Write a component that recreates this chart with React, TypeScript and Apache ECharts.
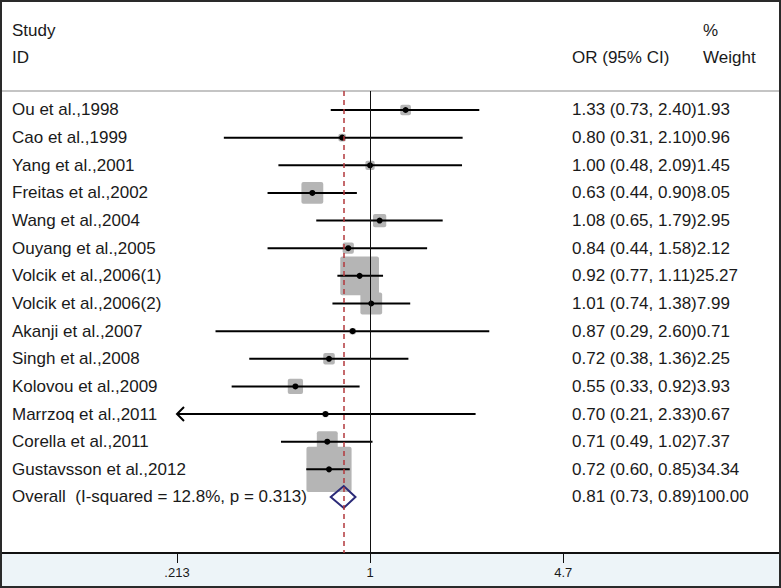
import React, { useEffect, useRef } from "react";
import * as echarts from "echarts";

const studies = [
  "Ou et al.,1998",
  "Cao et al.,1999",
  "Yang et al.,2001",
  "Freitas et al.,2002",
  "Wang et al.,2004",
  "Ouyang et al.,2005",
  "Volcik et al.,2006(1)",
  "Volcik et al.,2006(2)",
  "Akanji et al.,2007",
  "Singh et al.,2008",
  "Kolovou et al.,2009",
  "Marrzoq et al.,2011",
  "Corella et al.,2011",
  "Gustavsson et al.,2012",
];
const orValues = [1.33, 0.8, 1.0, 0.63, 1.08, 0.84, 0.92, 1.01, 0.87, 0.72, 0.55, 0.7, 0.71, 0.72];
const ciLower = [0.73, 0.31, 0.48, 0.44, 0.65, 0.44, 0.77, 0.74, 0.29, 0.38, 0.33, 0.21, 0.49, 0.6];
const ciUpper = [2.4, 2.1, 2.09, 0.9, 1.79, 1.58, 1.11, 1.38, 2.6, 1.36, 0.92, 2.33, 1.02, 0.85];
const weights = [1.93, 0.96, 1.45, 8.05, 2.95, 2.12, 25.27, 7.99, 0.71, 2.25, 3.93, 0.67, 7.37, 34.34];

const overallLabel = "Overall  (I-squared = 12.8%, p = 0.313)";
const overallOR = 0.81;
const overallLower = 0.73;
const overallUpper = 0.89;
const overallWeight = 100.0;

const tickValues = [0.213, 1, 4.7];
const tickLabels = [".213", "1", "4.7"];

const FONT = '"Liberation Sans", Arial, Helvetica, sans-serif';
const TEXT = "#1a1a1a";

export default function App() {
  const ref = useRef<HTMLDivElement>(null);

  useEffect(() => {
    document.body.style.margin = "0";
    if (!ref.current) return;
    const chart = echarts.init(ref.current, null, { renderer: "svg" });

    const ln = Math.log;
    const clipLow = ln(tickValues[0]);
    const leftLabels = [...studies, overallLabel];
    const rightLabels = [
      ...orValues.map(
        (o, i) =>
          `${o.toFixed(2)} (${ciLower[i].toFixed(2)}, ${ciUpper[i].toFixed(2)})${weights[i].toFixed(2)}`
      ),
      `${overallOR.toFixed(2)} (${overallLower.toFixed(2)}, ${overallUpper.toFixed(2)})${overallWeight.toFixed(2)}`,
    ];
    const rowIdx = leftLabels.map((_, i) => i);
    const studyData = orValues.map((o, i) => [ln(o), i, ln(ciLower[i]), ln(ciUpper[i]), weights[i]]);
    const overallRow = studies.length;

    const xMin = ln(0.052);
    const xMax = ln(26.7);

    const option: any = {
      animation: false,
      textStyle: { fontFamily: FONT },
      grid: { left: 1, right: 1, top: 91, bottom: 35 },
      xAxis: [
        {
          type: "value",
          position: "bottom",
          min: xMin,
          max: xMax,
          axisLine: { show: true, onZero: false, lineStyle: { color: "#111", width: 2 } },
          axisTick: {
            show: true,
            inside: false,
            customValues: tickValues.map((v) => ln(v)),
            length: 10,
            lineStyle: { color: "#111", width: 1 },
          },
          axisLabel: {
            show: true,
            customValues: tickValues.map((v) => ln(v)),
            formatter: (v: number) => {
              let best = 0;
              tickValues.forEach((t, i) => {
                if (Math.abs(ln(t) - v) < Math.abs(ln(tickValues[best]) - v)) best = i;
              });
              return tickLabels[best];
            },
            margin: 13,
            fontSize: 13,
            color: TEXT,
            fontFamily: FONT,
          },
          splitLine: { show: false },
        },
        {
          type: "value",
          position: "top",
          min: xMin,
          max: xMax,
          axisLine: { show: true, onZero: false, lineStyle: { color: "#c4c4c4", width: 2 } },
          axisTick: { show: false },
          axisLabel: { show: false },
          splitLine: { show: false },
        },
      ],
      yAxis: [
        {
          type: "value",
          inverse: true,
          min: -0.687,
          max: 16.026,
          position: "left",
          axisLine: { show: false, onZero: false },
          axisTick: { show: false },
          splitLine: { show: false },
          axisLabel: {
            show: true,
            inside: true,
            customValues: rowIdx,
            formatter: (v: number) => leftLabels[Math.round(v)] ?? "",
            margin: 11,
            align: "left",
            fontSize: 17,
            color: TEXT,
            fontFamily: FONT,
          },
        },
        {
          type: "value",
          inverse: true,
          min: -0.687,
          max: 16.026,
          position: "right",
          axisLine: { show: false, onZero: false },
          axisTick: { show: false },
          splitLine: { show: false },
          axisLabel: {
            show: true,
            inside: true,
            customValues: rowIdx,
            formatter: (v: number) => rightLabels[Math.round(v)] ?? "",
            margin: 208,
            align: "left",
            fontSize: 17,
            color: TEXT,
            fontFamily: FONT,
          },
        },
      ],
      graphic: [
        {
          type: "rect",
          z: -10,
          shape: { x: 0, y: 553, width: 781, height: 35 },
          style: { fill: "#edf4f8" },
        },
        {
          type: "text",
          x: 12,
          y: 30,
          style: { text: "Study", fontSize: 17, fill: TEXT, fontFamily: FONT, textVerticalAlign: "middle" },
        },
        {
          type: "text",
          x: 12,
          y: 57,
          style: { text: "ID", fontSize: 17, fill: TEXT, fontFamily: FONT, textVerticalAlign: "middle" },
        },
        {
          type: "text",
          x: 572,
          y: 57,
          style: { text: "OR (95% CI)", fontSize: 17, fill: TEXT, fontFamily: FONT, textVerticalAlign: "middle" },
        },
        {
          type: "text",
          x: 703,
          y: 30,
          style: { text: "%", fontSize: 17, fill: TEXT, fontFamily: FONT, textVerticalAlign: "middle" },
        },
        {
          type: "text",
          x: 703,
          y: 57,
          style: { text: "Weight", fontSize: 17, fill: TEXT, fontFamily: FONT, textVerticalAlign: "middle" },
        },
        {
          type: "rect",
          z: 100,
          shape: { x: 1, y: 1, width: 779, height: 586 },
          style: { fill: "none", stroke: "#2a2a2a", lineWidth: 2 },
        },
      ],
      series: [
        {
          type: "line",
          data: [],
          z: 1,
          markLine: {
            silent: true,
            symbol: ["none", "none"],
            label: { show: false },
            data: [
              { xAxis: 0, lineStyle: { color: "#111", type: "solid", width: 1 } },
              { xAxis: ln(overallOR), lineStyle: { color: "#b3383c", type: [5, 4], width: 1.5 } },
            ],
          },
        },
        {
          type: "custom",
          z: 2,
          encode: { x: 0, y: 1 },
          data: studyData,
          renderItem: (params: any, api: any) => {
            const c = api.coord([api.value(0), api.value(1)]);
            const s = 7.7 * Math.sqrt(api.value(4));
            return {
              type: "rect",
              shape: { x: c[0] - s / 2, y: c[1] - s / 2, width: s, height: s, r: 2 },
              style: { fill: "#b5b5b5" },
            };
          },
        },
        {
          type: "custom",
          z: 3,
          encode: { x: [0, 2, 3], y: 1 },
          data: studyData,
          renderItem: (params: any, api: any) => {
            const row = api.value(1);
            const loRaw = api.value(2);
            const clipped = loRaw < clipLow;
            const lo = clipped ? clipLow : loRaw;
            const p1 = api.coord([lo, row]);
            const p2 = api.coord([api.value(3), row]);
            const c = api.coord([api.value(0), row]);
            const children: any[] = [
              {
                type: "line",
                shape: { x1: p1[0], y1: p1[1], x2: p2[0], y2: p2[1] },
                style: { stroke: "#000", lineWidth: 2 },
              },
              {
                type: "circle",
                shape: { cx: c[0], cy: c[1], r: 3 },
                style: { fill: "#000" },
              },
            ];
            if (clipped) {
              children.push({
                type: "polyline",
                shape: {
                  points: [
                    [p1[0] + 7, p1[1] - 7],
                    [p1[0], p1[1]],
                    [p1[0] + 7, p1[1] + 7],
                  ],
                },
                style: { stroke: "#000", lineWidth: 2, fill: "none" },
              });
            }
            return { type: "group", children };
          },
        },
        {
          type: "custom",
          z: 4,
          encode: { x: [0, 2, 3], y: 1 },
          data: [[ln(overallOR), overallRow, ln(overallLower), ln(overallUpper)]],
          renderItem: (params: any, api: any) => {
            const row = api.value(1);
            const l = api.coord([api.value(2), row]);
            const m = api.coord([api.value(0), row]);
            const r = api.coord([api.value(3), row]);
            const h = 11;
            return {
              type: "polygon",
              shape: {
                points: [
                  [l[0], l[1]],
                  [m[0], m[1] - h],
                  [r[0], r[1]],
                  [m[0], m[1] + h],
                ],
              },
              style: { fill: "none", stroke: "#2b2a78", lineWidth: 2 },
            };
          },
        },
      ],
    };

    chart.setOption(option);
    return () => chart.dispose();
  }, []);

  return <div ref={ref} style={{ width: 781, height: 588 }} />;
}
